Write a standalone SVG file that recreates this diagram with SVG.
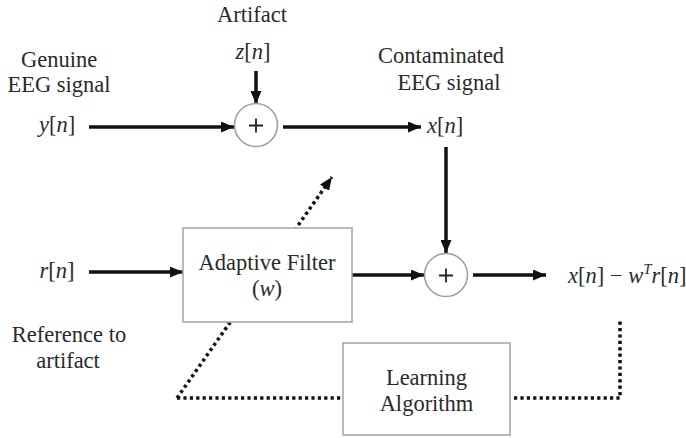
<svg xmlns="http://www.w3.org/2000/svg" width="686" height="438" viewBox="0 0 686 438">
  <defs>
    <marker id="arrow" markerUnits="userSpaceOnUse" markerWidth="13" markerHeight="11" refX="13" refY="5.5" orient="auto">
      <path d="M0,0 L13,5.5 L0,11 Z" fill="#111"/>
    </marker>
  </defs>
  <rect width="686" height="438" fill="#fff"/>

  <!-- connectors -->
  <g id="connectors" stroke="#111" stroke-width="3.5" fill="none">
    <line x1="89" y1="127" x2="234" y2="127" marker-end="url(#arrow)"/>
    <line x1="256" y1="71" x2="256" y2="104" marker-end="url(#arrow)"/>
    <line x1="283" y1="127" x2="421" y2="127" marker-end="url(#arrow)"/>
    <line x1="446" y1="147" x2="446" y2="253" marker-end="url(#arrow)"/>
    <line x1="89" y1="272" x2="183" y2="272" marker-end="url(#arrow)"/>
    <line x1="352" y1="275" x2="424" y2="275" marker-end="url(#arrow)"/>
    <line x1="473" y1="275" x2="546" y2="275" marker-end="url(#arrow)"/>
    <!-- adaptation path -->
    <g stroke-dasharray="3.2 3.2">
      <line x1="177" y1="398" x2="332" y2="177" marker-end="url(#arrow)"/>
      <line x1="177" y1="398" x2="343" y2="398"/>
      <polyline points="514,398 620,398 620,319"/>
    </g>
  </g>

  <!-- summing junctions -->
  <g id="sum1">
    <circle cx="256" cy="125" r="21.5" fill="#fff" stroke="#a0a0a0" stroke-width="1.6"/>
    <path d="M249,125.5 H263 M256,118.5 V132.5" stroke="#222" stroke-width="1.8"/>
  </g>
  <g id="sum2">
    <circle cx="446" cy="275" r="21.5" fill="#fff" stroke="#a0a0a0" stroke-width="1.6"/>
    <path d="M439,275.5 H453 M446,268.5 V282.5" stroke="#222" stroke-width="1.8"/>
  </g>

  <!-- blocks: labels are set at 24px and scaled to 22.5px -->
  <g id="adaptive-filter">
    <rect x="183" y="228" width="169" height="94" fill="#fff" stroke="#a8a8a8" stroke-width="1.6"/>
    <text transform="translate(267 270) scale(0.9375)" font-family="Liberation Serif" font-size="24" fill="#2a2a2a" text-anchor="middle">Adaptive Filter</text>
    <text transform="translate(267 296) scale(0.9375)" font-family="Liberation Serif" font-size="24" fill="#2a2a2a" text-anchor="middle">(<tspan font-style="italic">w</tspan>)</text>
  </g>
  <g id="learning-algorithm">
    <rect x="343" y="343" width="167" height="92" fill="#fff" stroke="#a8a8a8" stroke-width="1.6"/>
    <text transform="translate(426.5 385) scale(0.9375)" font-family="Liberation Serif" font-size="24" fill="#2a2a2a" text-anchor="middle">Learning</text>
    <text transform="translate(426.5 411) scale(0.9375)" font-family="Liberation Serif" font-size="24" fill="#2a2a2a" text-anchor="middle">Algorithm</text>
  </g>

  <!-- signal labels -->
  <g id="artifact">
    <text transform="translate(252 22) scale(0.9375)" font-family="Liberation Serif" font-size="24" fill="#2a2a2a" text-anchor="middle">Artifact</text>
    <text transform="translate(253 59) scale(0.9375)" font-family="Liberation Serif" font-size="24" fill="#2a2a2a" text-anchor="middle"><tspan font-style="italic">z</tspan>[<tspan font-style="italic">n</tspan>]</text>
  </g>
  <g id="genuine">
    <text transform="translate(59 67) scale(0.9375)" font-family="Liberation Serif" font-size="24" fill="#2a2a2a" text-anchor="middle">Genuine</text>
    <text transform="translate(59 92) scale(0.9375)" font-family="Liberation Serif" font-size="24" fill="#2a2a2a" text-anchor="middle">EEG signal</text>
    <text transform="translate(57 132) scale(0.9375)" font-family="Liberation Serif" font-size="24" fill="#2a2a2a" text-anchor="middle"><tspan font-style="italic">y</tspan>[<tspan font-style="italic">n</tspan>]</text>
  </g>
  <g id="contaminated">
    <text transform="translate(441 63) scale(0.9375)" font-family="Liberation Serif" font-size="24" fill="#2a2a2a" text-anchor="middle">Contaminated</text>
    <text transform="translate(449 90) scale(0.9375)" font-family="Liberation Serif" font-size="24" fill="#2a2a2a" text-anchor="middle">EEG signal</text>
    <text transform="translate(445 133) scale(0.9375)" font-family="Liberation Serif" font-size="24" fill="#2a2a2a" text-anchor="middle"><tspan font-style="italic">x</tspan>[<tspan font-style="italic">n</tspan>]</text>
  </g>
  <g id="reference">
    <text transform="translate(57 278) scale(0.9375)" font-family="Liberation Serif" font-size="24" fill="#2a2a2a" text-anchor="middle"><tspan font-style="italic">r</tspan>[<tspan font-style="italic">n</tspan>]</text>
    <text transform="translate(69 342) scale(0.9375)" font-family="Liberation Serif" font-size="24" fill="#2a2a2a" text-anchor="middle">Reference to</text>
    <text transform="translate(68 368) scale(0.9375)" font-family="Liberation Serif" font-size="24" fill="#2a2a2a" text-anchor="middle">artifact</text>
  </g>
  <g id="output">
    <text transform="translate(568 283) scale(0.9375)" font-family="Liberation Serif" font-size="24" fill="#2a2a2a"><tspan font-style="italic">x</tspan>[<tspan font-style="italic">n</tspan>] − <tspan font-style="italic">w</tspan><tspan font-style="italic" font-size="16" dy="-9.6">T</tspan><tspan font-style="italic" dy="9.6">r</tspan>[<tspan font-style="italic">n</tspan>]</text>
  </g>
</svg>
